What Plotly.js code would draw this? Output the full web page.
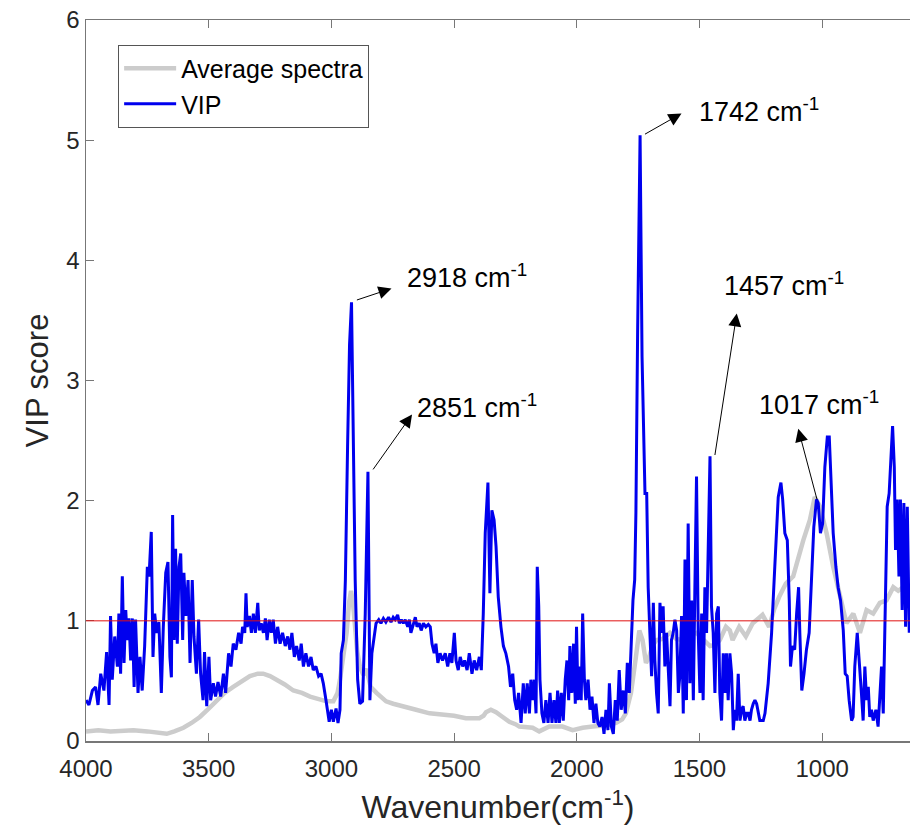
<!DOCTYPE html>
<html>
<head>
<meta charset="utf-8">
<script src="https://cdn.plot.ly/plotly-3.0.1.min.js"></script>
<style>
  html, body { margin: 0; padding: 0; background: #fff; }
  #chart { width: 910px; height: 827px; }
</style>
</head>
<body>
<div id="chart"></div>
<script>
// ---- Data ----
// VIP score curve: wavenumber (cm-1) and VIP values
const vipWavenumber = [
  4000,3988,3974,3961,3951,3940,3927,3916,3906,3900,3893,3883,3872,3866,3859,3852,3845,3838,3832,3825,
  3818,3811,3804,3798,3788,3780,3771,3761,3750,3743,3734,3727,3720,3712,3703,3693,3685,3675,3666,3658,
  3652,3647,3641,3635,3628,3621,3614,3606,3601,3593,3584,3576,3567,3560,3550,3541,3533,3523,3517,3508,
  3499,3492,3481,3472,3462,3451,3440,3431,
  3419,3409,3400,3389,3378,3368,3362,3353,3348,3343,3334,3326,3318,3310,3300,3294,3286,3277,3269,3262,
  3253,3245,3237,3228,3219,3209,3199,3188,3178,3169,3161,3151,3142,3131,3123,3114,3104,3093,3083,3074,
  3063,3052,3042,3033,3022,3014,3009,3000,2992,2981,2973,2965,2960,2951,2943,2934,2926,2918,2911,2903,
  2893,2884,2873,2862,2851,2843,
  2835,2825,2818,2807,2798,2788,2778,2767,2757,2748,2740,2730,2723,2715,2707,2699,2689,2682,2676,2666,
  2658,2651,2642,2634,2625,2615,2605,2597,2590,2581,2574,2566,2557,2547,2536,2526,2517,2509,2499,2492,
  2483,2475,2465,2457,2447,2438,2427,2418,2408,2397,2389,2381,2373,2362,2354,2346,2337,2329,2320,2309,
  2299,2289,
  2278,2270,2261,2253,2245,2237,2227,2218,2210,2202,2193,2187,2180,2173,2166,2161,2155,2150,2142,2134,
  2126,2117,2109,2101,2093,2085,2078,2071,2063,2055,2047,2040,2033,2028,2020,2013,2006,2001,1995,1990,
  1982,1976,1969,1963,1954,1946,1938,1930,1922,1914,1906,1897,1889,1881,1873,1867,1859,1851,1843,1835,
  1827,1819,1810,1802,1794,1786,1778,1771,1764,1759,1752,1742,1734,
  1722,1715,1709,1702,1695,1688,1682,1675,1668,1661,1654,1648,1641,1634,1627,1620,1614,1607,1600,1593,
  1586,1580,1573,1566,1559,1553,1546,1539,1532,1525,1519,1512,1505,1498,1491,1485,1478,1471,1457,1451,
  1444,1437,1430,1423,1417,1410,1403,1396,1390,1383,1376,1369,1362,1356,1349,1342,1335,1328,1322,1315,
  1308,1301,1294,1288,1281,1274,1267,1261,1254,1240,1233,1220,1206,1193,1179,1168,1161,1152,1142,1134,
  1129,1121,1112,1104,1096,1091,1083,1074,1064,1053,1043,1034,1023,1016,1007,998,989,979,971,964,
  955,944,935,925,914,906,898,890,880,874,867,857,849,840,833,826,819,812,806,799,
  792,781,772,765,758,751,744,735,727,721,713,706,701,694,687,681,674,667,660,653,645
];
const vipScore = [
  0.34,0.30,0.42,0.45,0.30,0.56,0.42,0.74,0.30,1.04,0.51,0.87,0.62,1.06,0.56,1.37,0.65,1.09,0.84,1.02,
  0.67,1.02,0.45,1.01,0.40,0.70,0.42,0.79,1.45,1.37,1.74,0.70,1.06,0.90,0.99,0.40,0.95,1.40,1.49,0.70,
  0.53,1.88,0.84,1.60,0.81,1.45,1.56,0.84,1.40,1.04,1.34,0.65,1.34,0.87,0.56,1.01,0.56,0.34,0.74,0.29,
  0.70,0.34,0.48,0.37,0.49,0.37,0.56,0.40,
  0.73,0.62,0.81,0.76,0.90,0.81,0.95,0.90,1.23,0.95,1.04,0.90,1.06,0.90,1.15,0.92,0.98,0.90,1.02,0.84,
  1.01,0.90,1.01,0.81,0.95,0.81,0.90,0.79,0.87,0.76,0.90,0.70,0.79,0.67,0.81,0.62,0.73,0.62,0.70,0.59,
  0.62,0.54,0.56,0.48,0.34,0.23,0.16,0.26,0.16,0.27,0.15,0.26,0.73,0.84,1.34,2.45,3.30,3.65,2.73,1.34,
  0.51,0.31,0.33,1.06,2.24,0.34,
  0.73,0.90,0.98,1.01,0.98,1.02,0.99,1.03,0.99,1.03,1.01,1.05,0.98,1.01,0.98,1.01,0.95,1.01,0.90,0.97,
  1.03,0.95,0.98,0.92,0.98,0.95,0.97,0.95,0.81,0.73,0.81,0.65,0.73,0.67,0.73,0.62,0.73,0.65,0.90,0.67,
  0.59,0.70,0.62,0.67,0.59,0.73,0.56,0.67,0.59,0.70,0.59,1.06,1.73,2.15,1.23,1.92,1.84,1.62,1.20,0.95,
  0.79,0.73,
  0.62,0.45,0.56,0.34,0.26,0.40,0.15,0.48,0.23,0.48,0.23,0.51,0.34,0.51,0.23,1.45,1.12,0.51,0.23,0.15,
  0.34,0.15,0.40,0.15,0.34,0.15,0.42,0.15,0.40,0.17,0.51,0.67,0.34,0.79,0.40,0.81,0.31,0.95,0.34,0.62,
  0.34,1.06,0.51,0.34,0.51,0.26,0.37,0.15,0.31,0.15,0.12,0.20,0.06,0.26,0.09,0.48,0.12,0.06,0.34,0.17,
  0.59,0.26,0.42,0.23,0.65,0.40,0.84,1.17,1.34,1.90,3.40,5.04,3.20,
  2.06,2.06,1.28,0.90,0.54,1.15,0.68,0.40,0.23,1.15,0.90,1.12,0.62,0.90,0.56,0.29,0.84,0.90,1.01,0.92,
  0.40,0.54,1.04,0.23,1.51,0.34,1.81,0.48,1.17,0.34,1.23,2.20,0.90,0.40,1.06,0.34,1.28,0.90,2.37,1.12,
  0.90,0.40,1.06,1.12,0.40,0.17,0.73,0.40,0.73,0.34,0.73,0.56,0.09,0.26,0.17,0.56,0.17,0.26,0.29,0.17,
  0.23,0.23,0.17,0.26,0.31,0.34,0.31,0.23,0.17,0.17,0.23,0.48,0.90,1.45,2.03,2.15,2.01,1.73,1.67,1.17,
  0.62,0.79,0.76,1.06,1.28,0.90,0.42,0.56,0.76,0.90,1.31,1.78,2.01,1.98,1.73,1.81,2.28,2.53,2.53,2.12,
  1.73,1.45,1.28,1.17,0.92,0.56,0.54,0.34,0.17,0.20,0.62,0.90,0.62,0.40,0.17,0.62,0.34,0.45,0.20,0.26,
  0.17,0.26,0.12,0.42,0.62,0.23,0.95,1.95,2.06,2.28,2.62,2.28,1.59,2.01,1.37,2.01,1.09,1.98,0.95,1.95,0.90
];

// Average spectra curve (grey)
const avgWavenumber = [
  4000,3950,3900,3850,3807,3750,3700,3671,3640,3603,3570,3536,3500,3468,3435,3400,3366,3332,3300,3278,
  3250,3223,3190,3155,3120,3087,3050,3020,2992,2975,2965,2950,2938,2928,2920,2912,2904,2895,2884,2870,
  2857,2840,2816,2777,2748,2700,2655,2600,2550,2500,2452,2397,2380,2370,2350,2329,2302,2275,2250,2234,
  2180,2153,2112,2058,2017,1976,1935,1881,1840,1815,1800,1779,1759,1745,1732,1718,1705,1690,1675,1650,
  1620,1595,1566,1540,1512,1485,1457,1435,1417,1392,1376,1365,1338,1311,1283,1260,1243,1216,1195,1175,
  1148,1118,1095,1077,1050,1030,1009,982,955,928,901,873,846,819,792,765,738,710,690,670,645
];
const avgSpectra = [
  0.08,0.09,0.08,0.09,0.09,0.08,0.07,0.06,0.08,0.11,0.15,0.20,0.27,0.34,0.40,0.45,0.50,0.54,0.56,0.56,
  0.54,0.51,0.47,0.42,0.40,0.37,0.35,0.33,0.33,0.40,0.51,0.75,0.90,1.15,1.25,1.15,0.95,0.75,0.62,0.55,
  0.60,0.45,0.40,0.33,0.31,0.28,0.26,0.23,0.22,0.21,0.19,0.19,0.21,0.24,0.26,0.24,0.20,0.16,0.14,0.12,
  0.11,0.08,0.12,0.12,0.09,0.11,0.12,0.13,0.15,0.18,0.23,0.40,0.70,0.92,0.84,0.65,0.70,0.80,0.84,0.85,
  0.90,0.85,0.84,0.88,0.90,0.85,0.79,0.80,0.84,0.95,0.92,0.84,0.95,0.87,0.98,1.02,1.05,0.95,1.10,1.20,
  1.31,1.37,1.55,1.67,1.84,2.03,1.95,1.73,1.45,1.20,0.98,1.06,0.90,1.09,1.06,1.15,1.17,1.28,1.25,1.28,1.28
];

// Threshold line
const vipThreshold = 1;

// Axis ticks
const xTickVals = [4000, 3500, 3000, 2500, 2000, 1500, 1000];
const yTickVals = [0, 1, 2, 3, 4, 5, 6];

// Peak labels: arrow from the peak (tail) to the head near the label text
const peakLabels = ['2918', '2851', '1742', '1457', '1017'];
const arrowTailX = [2896, 2830, 1722, 1437, 1021];
const arrowTailY = [3.67, 2.26, 5.05, 2.38, 2.01];
const arrowHeadX = [2749, 2667, 1567, 1347, 1099];
const arrowHeadY = [3.77, 2.73, 5.23, 3.57, 2.61];
const labelX = [2700, 2659, 1510, 1408, 1266];
const labelY = [3.87, 2.79, 5.25, 3.80, 2.81];

const FONT = 'Arial, "Liberation Sans", Helvetica, sans-serif';
const TXT = '#262626';

const traces = [
  {
    x: avgWavenumber, y: avgSpectra, type: 'scatter', mode: 'lines',
    name: 'Average spectra',
    line: { color: '#cccccc', width: 4.5 }
  },
  {
    x: vipWavenumber, y: vipScore, type: 'scatter', mode: 'lines',
    name: 'VIP',
    line: { color: '#0000ee', width: 3 }
  }
];

const annotations = [];
peakLabels.forEach((lab, i) => {
  annotations.push({
    x: arrowTailX[i], y: arrowTailY[i], xref: 'x', yref: 'y',
    ax: arrowHeadX[i], ay: arrowHeadY[i], axref: 'x', ayref: 'y',
    text: '', showarrow: true, arrowside: 'start',
    arrowhead: 2, arrowsize: 2.6, startarrowhead: 2, startarrowsize: 2.6,
    arrowwidth: 1, arrowcolor: '#000',
    standoff: 0, startstandoff: 0
  });
  annotations.push({
    x: labelX[i], y: labelY[i], xref: 'x', yref: 'y',
    xanchor: 'left', yanchor: 'middle', showarrow: false,
    text: lab + ' cm<sup>-1</sup>',
    font: { family: FONT, size: 27, color: '#000' }
  });
});

const layout = {
  width: 910, height: 827,
  margin: { l: 86, r: 0, t: 20, b: 86, pad: 0 },
  paper_bgcolor: '#fff', plot_bgcolor: '#fff',
  font: { family: FONT, color: TXT },
  showlegend: true,
  legend: {
    x: 0.039, y: 0.966, xanchor: 'left', yanchor: 'top',
    bgcolor: '#fff', bordercolor: '#555', borderwidth: 1,
    font: { family: FONT, size: 25, color: '#000' },
    itemwidth: 52, tracegroupgap: 0,
    entrywidth: 274, entrywidthmode: 'pixels'
  },
  xaxis: {
    range: [4000, 642], autorange: false,
    tickmode: 'array', tickvals: xTickVals, ticktext: xTickVals.map(String),
    ticks: 'inside', ticklen: 8, tickwidth: 1, tickcolor: '#777',
    showline: true, linecolor: '#777', linewidth: 1.5, mirror: 'ticks',
    showgrid: false, zeroline: false,
    ticklabelstandoff: 6,
    tickfont: { family: FONT, size: 24, color: TXT },
    title: { text: 'Wavenumber(cm<sup>-1</sup>)', font: { family: FONT, size: 32, color: TXT }, standoff: 14 }
  },
  yaxis: {
    range: [0, 6], autorange: false,
    tickmode: 'array', tickvals: yTickVals, ticktext: yTickVals.map(String),
    ticks: 'inside', ticklen: 8, tickwidth: 1, tickcolor: '#777',
    showline: true, linecolor: '#777', linewidth: 1.5, mirror: false,
    showgrid: false, zeroline: false,
    tickfont: { family: FONT, size: 24, color: TXT },
    title: { text: 'VIP score', font: { family: FONT, size: 31, color: TXT }, standoff: 8 }
  },
  shapes: [{
    type: 'line', xref: 'paper', x0: 0, x1: 1, yref: 'y', y0: vipThreshold, y1: vipThreshold,
    line: { color: '#e01010', width: 1 }, layer: 'above'
  }],
  annotations: annotations
};

Plotly.newPlot('chart', traces, layout, { displayModeBar: false, staticPlot: true });
</script>
</body>
</html>
